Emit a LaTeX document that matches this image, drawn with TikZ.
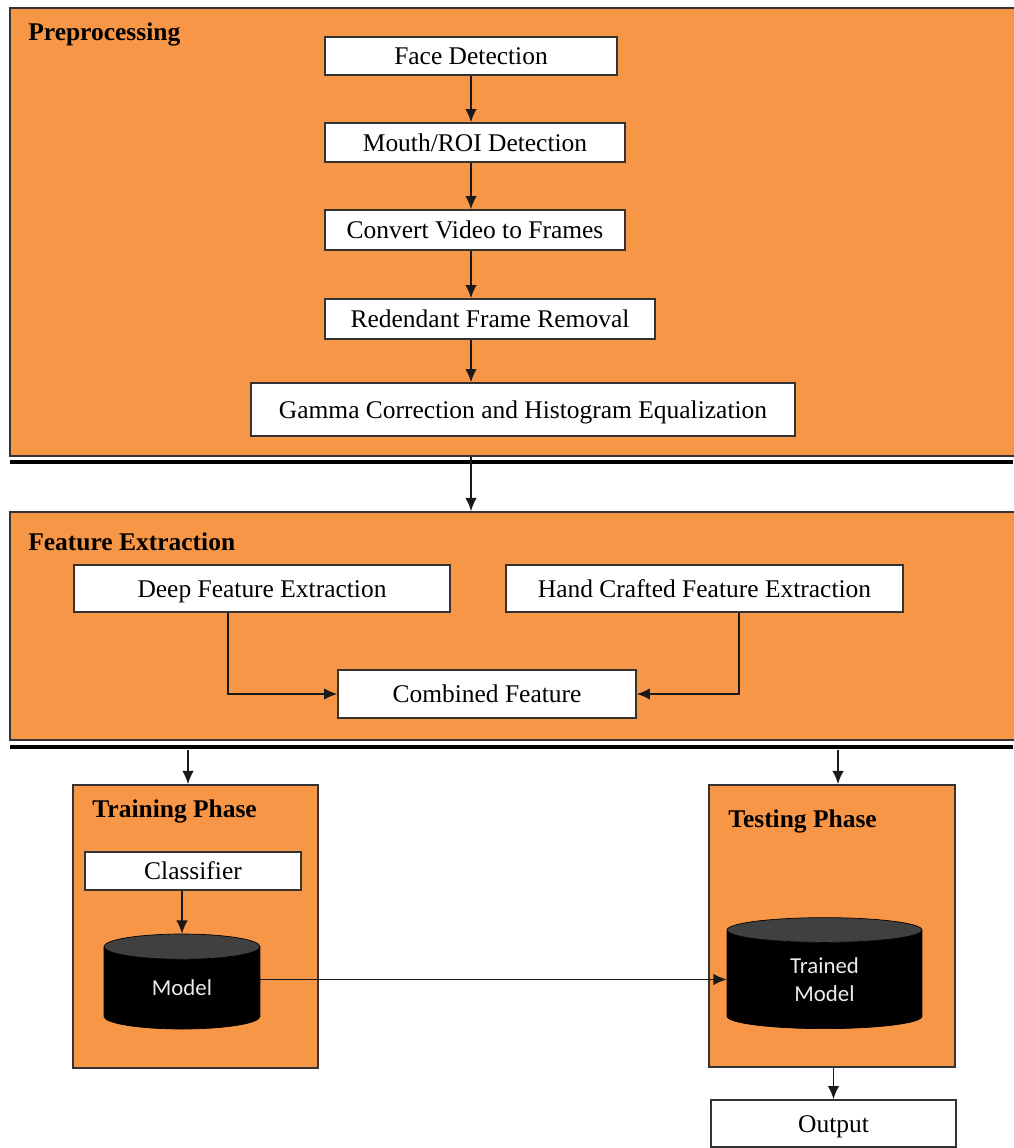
\documentclass[tikz,border=0pt]{standalone}
\usepackage{fontspec}
\setmainfont{Liberation Serif}
\newfontfamily\cylfont{Carlito}
\usetikzlibrary{shapes.geometric,arrows.meta}
\definecolor{panelorange}{HTML}{F79646}
\tikzset{
  panel/.style={draw=black!80, fill=panelorange, line width=1pt, rectangle, inner sep=0pt},
  stepbox/.style={draw=black!80, fill=white, rectangle, line width=0.9pt, font=\fontsize{14.5}{17}\selectfont, inner sep=0pt, text height=9.9pt, text depth=0pt},
  phasetitle/.style={anchor=west, font=\fontsize{14.5}{17}\selectfont\bfseries, inner sep=0pt},
  dbase/.style={cylinder, shape border rotate=90, aspect=0.4, draw=black, cylinder uses custom fill, cylinder body fill=black, cylinder end fill=black!75, text=black!8, align=center, font=\cylfont\fontsize{13}{16}\selectfont, inner sep=0pt},
  flow/.style={->, line width=0.9pt, black!90},
  rule/.style={line width=2.4pt, black},
  >={Latex[length=7.5pt,width=6.5pt]}
}
\begin{document}
\begin{tikzpicture}[x=0.02cm, y=-0.02cm]
        \useasboundingbox (0,0) rectangle (1013,1148);

        % panels
        \node[panel, minimum width=20.4cm, minimum height=8.96cm] (prep) at (520,232) {};
        \node[panel, minimum width=20.4cm, minimum height=4.56cm] (feat) at (520,626) {};
        \node[panel, minimum width=4.9cm, minimum height=5.66cm] (train) at (195.5,926.5) {};
        \node[panel, minimum width=4.92cm, minimum height=5.64cm] (test) at (832,926) {};

        \draw[rule] (10,462) -- (1013,462);
        \draw[rule] (10,747) -- (1013,747);

        \node[phasetitle] (preptitle) at (28,34) {Preprocessing};
        \node[phasetitle] (feattitle) at (28,542) {Feature Extraction};
        \node[phasetitle] (traintitle) at (92,811) {Training Phase};
        \node[phasetitle] (testtitle) at (728,821) {Testing Phase};

        % preprocessing steps
        \node[stepbox, minimum width=5.84cm, minimum height=0.76cm] (face) at (471,56) {Face Detection};
        \node[stepbox, minimum width=6cm, minimum height=0.78cm] (mouth) at (475,142.5) {Mouth/ROI Detection};
        \node[stepbox, minimum width=6cm, minimum height=0.8cm] (frames) at (475,230) {Convert Video to Frames};
        \node[stepbox, minimum width=6.6cm, minimum height=0.8cm] (redund) at (490,319) {Redendant Frame Removal};
        \node[stepbox, minimum width=10.88cm, minimum height=1.06cm] (gamma) at (523,409.5) {Gamma Correction and Histogram Equalization};

        \draw[flow] (face.south) -- (face.south |- mouth.north);
        \draw[flow] (face.south |- mouth.south) -- (face.south |- frames.north);
        \draw[flow] (face.south |- frames.south) -- (face.south |- redund.north);
        \draw[flow] (face.south |- redund.south) -- (face.south |- gamma.north);
        \draw[flow] (face.south |- prep.south) -- (face.south |- feat.north);

        % feature extraction
        \node[stepbox, minimum width=7.52cm, minimum height=0.94cm] (deep) at (262,588.5) {Deep Feature Extraction};
        \node[stepbox, minimum width=7.94cm, minimum height=0.94cm] (hand) at (704.5,588.5) {Hand Crafted Feature Extraction};
        \node[stepbox, minimum width=5.96cm, minimum height=0.96cm] (comb) at (487,694) {Combined Feature};

        \draw[flow] ([xshift=-0.68cm]deep.south) |- (comb.west);
        \draw[flow] ([xshift=0.69cm]hand.south) |- (comb.east);

        \coordinate (totrain) at (188,750);
        \coordinate (totest) at (838,750);
        \draw[flow] (totrain) -- (totrain |- train.north);
        \draw[flow] (totest) -- (totest |- test.north);

        % training and testing
        \node[stepbox, minimum width=4.32cm, minimum height=0.76cm] (classifier) at (193,871) {Classifier};
        \node[dbase, aspect=0.42, minimum width=3.12cm, minimum height=1.9cm] (model) at (182,988) {Model};
        \node[dbase, aspect=0.36, minimum width=3.9cm, minimum height=2.22cm] (trained) at (824.5,979.5) {Trained\\Model};
        \node[stepbox, minimum width=4.9cm, minimum height=0.94cm] (output) at (833.5,1123.5) {Output};

        \draw[flow] (model.north |- classifier.south) -- (model.north);
        \draw[flow] (model.east |- trained.west) -- (trained.west);
        \draw[flow] (output.north |- test.south) -- (output.north);
\end{tikzpicture}
\end{document}
